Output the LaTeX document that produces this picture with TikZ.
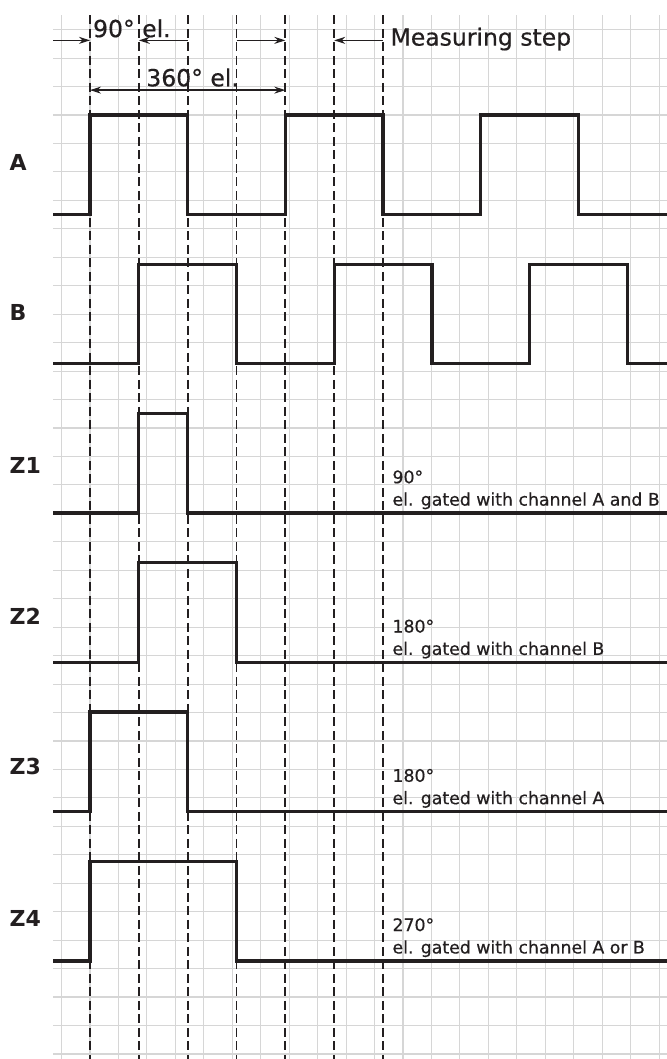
\documentclass[tikz,border=0pt]{standalone}
\usepackage{fontspec}
\setmainfont{DejaVu Sans}
\newfontfamily\inkfont[FakeBold=0.5]{DejaVu Sans}
\usepackage{tikz}
\usetikzlibrary{arrows.meta}
\definecolor{ink}{RGB}{35,31,32}
\definecolor{gridgray}{RGB}{214,214,214}
\tikzset{
  baseline = (current bounding box.center),
}

\begin{document}
\begin{tikzpicture}[
    x=24.42pt, y=24.88pt,
    mesh/.style={gridgray,line width=1.1pt},
    guide/.style={ink,line width=1.9pt,dash pattern=on 9pt off 4.5pt},
    sig/.style={ink,line width=3.3pt},
    dim/.style={ink,line width=1.3pt,>={Stealth[length=11pt,width=7pt]}},
    toptext/.style={ink,inner sep=0pt,anchor=base west,font=\inkfont\fontsize{23.5}{28}\selectfont},
    chan/.style={ink,inner sep=0pt,anchor=west,font=\fontsize{22}{26}\selectfont\bfseries},
    note/.style={ink,inner sep=0pt,anchor=base west,font=\inkfont\fontsize{17.3}{21}\selectfont}
    ]
    \useasboundingbox[fill=white] (-3.6855,-37.942) rectangle (23.628,4.622);
    \draw[mesh] (-1.515,-37.942) grid (23.628,4);
    \foreach \i in {0,...,6}
      \draw[guide] (2*\i,4) -- (2*\i,-37.942);
    \draw[sig] (-1.515,-4) -- (0,-4) -- (0,0) -- (4,0) -- (4,-4) -- (8,-4) -- (8,0) -- (12,0)
      -- (12,-4) -- (16,-4) -- (16,0) -- (20,0) -- (20,-4) -- (23.7,-4);
    \draw[sig] (-1.515,-10) -- (2,-10) -- (2,-6) -- (6,-6) -- (6,-10) -- (10,-10) -- (10,-6) -- (14,-6)
      -- (14,-10) -- (18,-10) -- (18,-6) -- (22,-6) -- (22,-10) -- (23.7,-10);
    \draw[sig] (-1.515,-16) -- (2,-16) -- (2,-12) -- (4,-12) -- (4,-16) -- (23.7,-16);
    \draw[sig] (-1.515,-22) -- (2,-22) -- (2,-18) -- (6,-18) -- (6,-22) -- (23.7,-22);
    \draw[sig] (-1.515,-28) -- (0,-28) -- (0,-24) -- (4,-24) -- (4,-28) -- (23.7,-28);
    \draw[sig] (-1.515,-34) -- (0,-34) -- (0,-30) -- (6,-30) -- (6,-34) -- (23.7,-34);
    \coordinate (s0) at (-1.515,3);
    \coordinate (p0) at (0,3);
    \coordinate (p2) at (2,3);
    \coordinate (p4) at (4,3);
    \coordinate (p6) at (6,3);
    \coordinate (p8) at (8,3);
    \coordinate (p10) at (10,3);
    \coordinate (p12) at (12,3);
    \coordinate (q0) at (0,1);
    \coordinate (q8) at (8,1);
    \draw[dim,->] (s0) -- (p0);
    \draw[dim,->] (p4) -- (p2);
    \draw[dim,->] (p6) -- (p8);
    \draw[dim,->] (p12) -- (p10);
    \draw[dim,<->] (q0) -- (q8);
    \node[toptext] (quarter) at (0.12,3.13) {90° el.};
    \node[toptext] (period) at (2.30,1.155) {360° el.};
    \node[toptext] (step) at (12.30,2.79) {Measuring step};
    \node[chan] (chA) at (-3.30,-1.9) {A};
    \node[chan] (chB) at (-3.30,-7.95) {B};
    \node[chan] (chZ1) at (-3.30,-14.08) {Z1};
    \node[chan] (chZ2) at (-3.30,-20.15) {Z2};
    \node[chan] (chZ3) at (-3.30,-26.2) {Z3};
    \node[chan] (chZ4) at (-3.30,-32.3) {Z4};
    \node[note] (degZ1) at (12.38,-14.8) {90°};
    \node[note] (gateZ1) at (12.38,-15.7) {el. gated with channel A and B};
    \node[note] (degZ2) at (12.38,-20.8) {180°};
    \node[note] (gateZ2) at (12.38,-21.7) {el. gated with channel B};
    \node[note] (degZ3) at (12.38,-26.8) {180°};
    \node[note] (gateZ3) at (12.38,-27.7) {el. gated with channel A};
    \node[note] (degZ4) at (12.38,-32.8) {270°};
    \node[note] (gateZ4) at (12.38,-33.7) {el. gated with channel A or B};
\end{tikzpicture}
\end{document}
